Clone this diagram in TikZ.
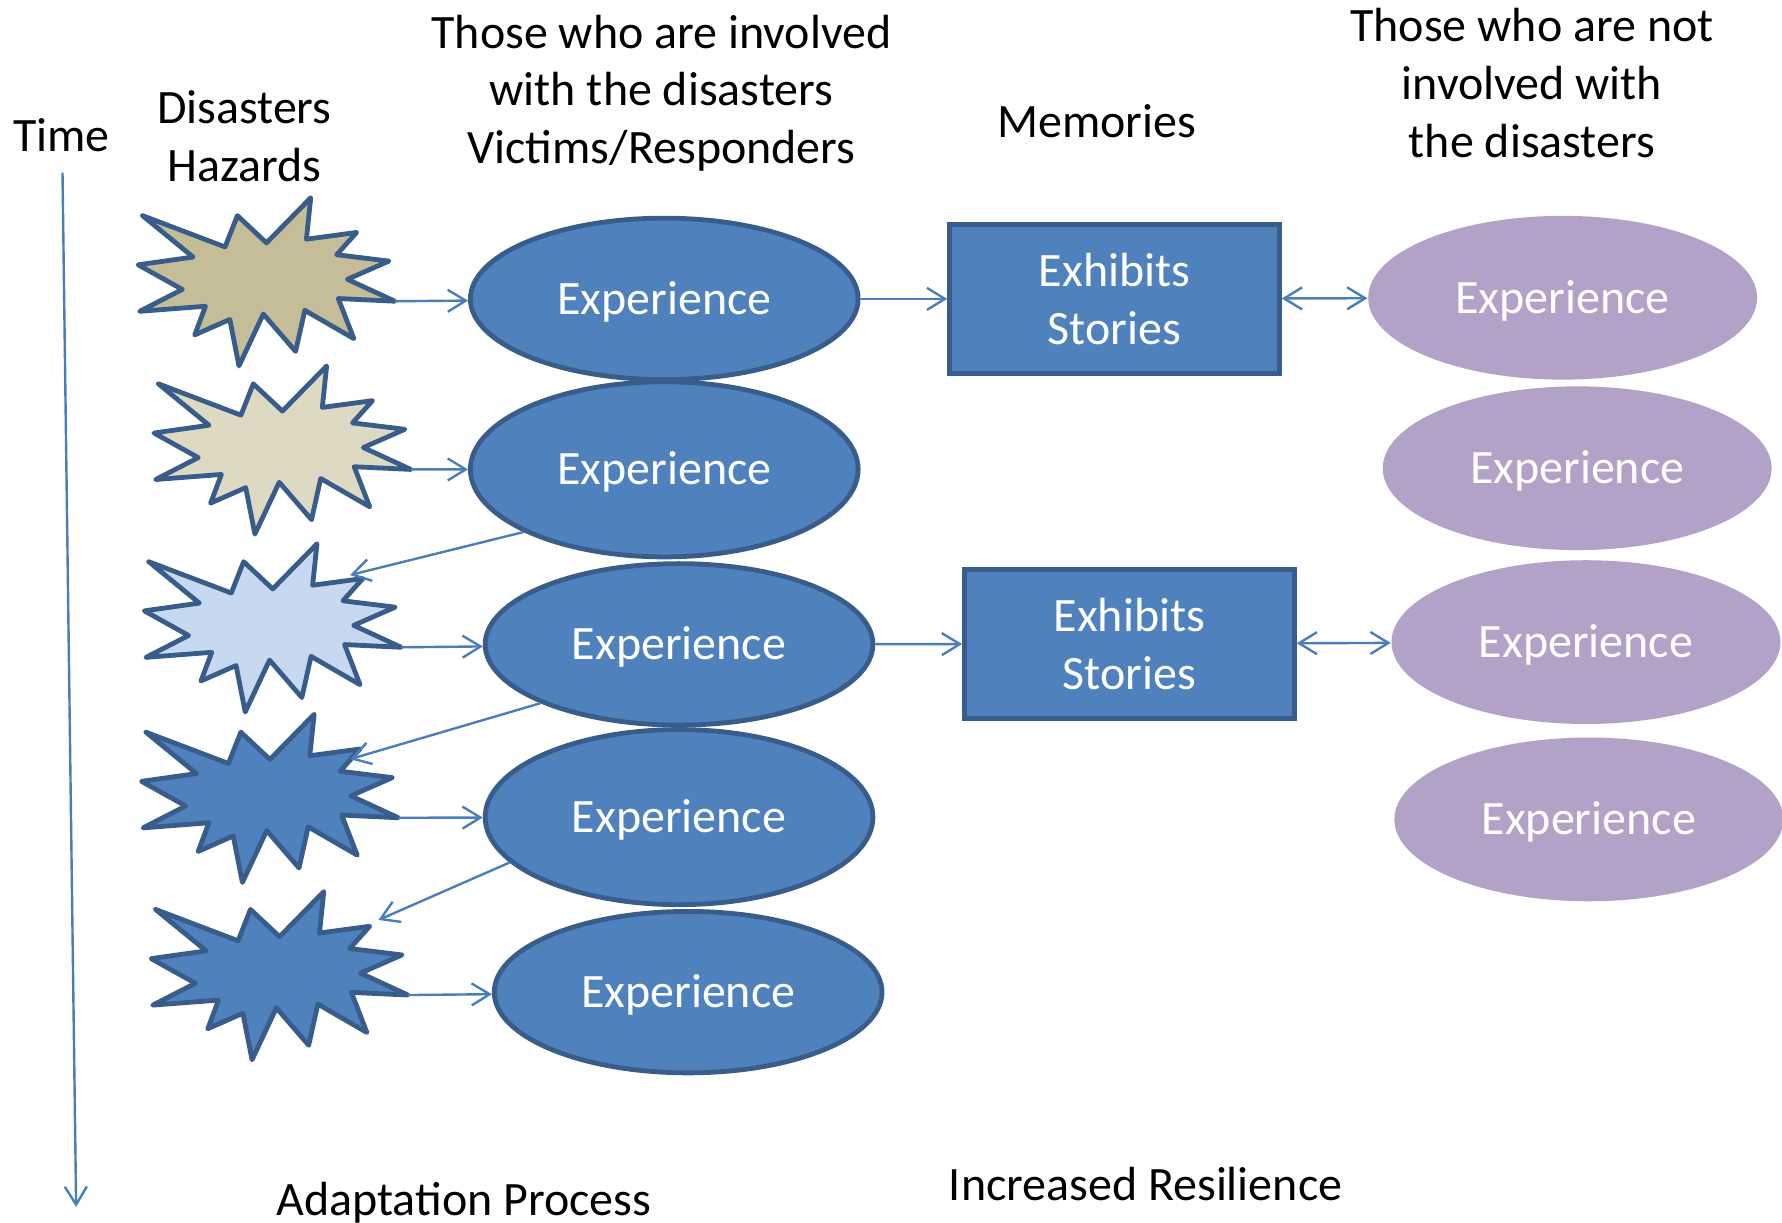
\documentclass[tikz,border=0pt]{standalone}
\usepackage{fontspec}
\setmainfont{Carlito}
\usetikzlibrary{arrows.meta,shapes.geometric}
\definecolor{fillblue}{HTML}{4F81BD}
\definecolor{edgeblue}{HTML}{385D8A}
\definecolor{lineblue}{HTML}{4A7EBB}
\definecolor{tandark}{HTML}{C4BD97}
\definecolor{tanlight}{HTML}{DDD9C3}
\definecolor{skyblue}{HTML}{C6D9F1}
\definecolor{lilac}{HTML}{B3A2C7}
\tikzset{every node/.style={align=center}, >={Straight Barb[length=4.5pt,width=5.5pt]},
  font=\fontsize{12}{14.5}\selectfont,
  conn/.style={->, color=lineblue, line width=0.6pt},
  hazard/.style={draw=edgeblue, line width=1.2pt, line join=round},
  exp/.style={ellipse, draw=edgeblue, line width=1.2pt, fill=fillblue, text=white, text depth=0.5pt, minimum width=3.41cm, minimum height=1.42cm},
  tallexp/.style={exp, minimum height=1.54cm},
  other/.style={ellipse, fill=lilac, text=white, text depth=0.5pt, minimum width=3.42cm, minimum height=1.44cm},
  memory/.style={rectangle, draw=edgeblue, line width=1.2pt, fill=fillblue, text=white, minimum width=2.9cm, minimum height=1.31cm},
  burst/.pic={
    \begin{scope}[xscale=2.26, yscale=1.48, shift={(-50,-50)}]
      \draw[pic actions] (50,26.85) -- (67.23,0) -- (65.53,24.65) -- (85.09,20.63) -- (77.32,33.87)
        -- (97.67,37.67) -- (81.51,48.5) -- (100,61.53) -- (77.95,59.92) -- (84,83.77)
        -- (64.91,66.93) -- (61.33,91.38) -- (48.76,69.14) -- (39.28,100) -- (35.72,72.35)
        -- (22.05,81.56) -- (26.24,64.52) -- (0.63,67.53) -- (17.23,54.51) -- (0,39.88)
        -- (21.42,35.26) -- (1.71,10.63) -- (33.85,29.26) -- (38.67,10.63) -- cycle;
      \coordinate (-tip) at (100,61.53);
    \end{scope}
  }}
\begin{document}
\begin{tikzpicture}[x=0.01cm, y=-0.01cm]
  \useasboundingbox (0,0) rectangle (1568,1076);
  % headings
  \node (time) at (54,119) {Time};
  \node (hazards) at (215,120) {Disasters\\Hazards};
  \node (involved) at (582,82) {Those who are involved\\with the disasters\\Victims/Responders};
  \node (memories) at (965,107) {Memories};
  \node (others) at (1348,73) {Those who are not\\involved with\\the disasters};
  \node (adapt) at (408,1058) {Adaptation Process};
  \node (resil) at (1008,1042) {Increased Resilience};
  % time axis
  \coordinate (t0) at (55,152);
  \coordinate (t1) at (67,1062);
  \draw[conn] (t0) -- (t1);
  % disasters
  \pic[hazard, fill=tandark] (s1) at (234.5,248) {burst};
  \pic[hazard, fill=tanlight] (s2) at (248.5,396) {burst};
  \pic[hazard, fill=skyblue] (s3) at (240,552.5) {burst};
  \pic[hazard, fill=fillblue] (s4) at (237.5,702.5) {burst};
  \pic[hazard, fill=fillblue] (s5) at (246,858.5) {burst};
  % experiences
  \node[exp] (e1) at (584.5,263) {Experience};
  \node[tallexp] (e2) at (584.5,413) {Experience};
  \node[exp] (e3) at (597.5,567) {Experience};
  \node[tallexp] (e4) at (597.5,719) {Experience};
  \node[exp] (e5) at (605.5,873) {Experience};
  \node[memory] (b1) at (980.7,263) {Exhibits\\Stories};
  \node[memory] (b2) at (993.8,566.6) {Exhibits\\Stories};
  \node[other] (p1) at (1375,262) {Experience};
  \node[other] (p2) at (1387.8,412) {Experience};
  \node[other] (p3) at (1395.5,565) {Experience};
  \node[other] (p4) at (1398,721) {Experience};
  \coordinate (h3) at (308,506);
  \coordinate (h4) at (308,668);
  \coordinate (h5) at (333,809.5);
  \path[conn] (s1-tip) edge (e1) (s2-tip) edge (e2) (s3-tip) edge (e3)
    (s4-tip) edge (e4) (s5-tip) edge (e5)
    (e1) edge (b1) (e3) edge (b2)
    (e2.204) edge (h3) (e3.203) edge (h4) (e4.195) edge (h5);
  \path[conn, <->] (b1) edge (p1) (b2) edge (p3);
\end{tikzpicture}
\end{document}
